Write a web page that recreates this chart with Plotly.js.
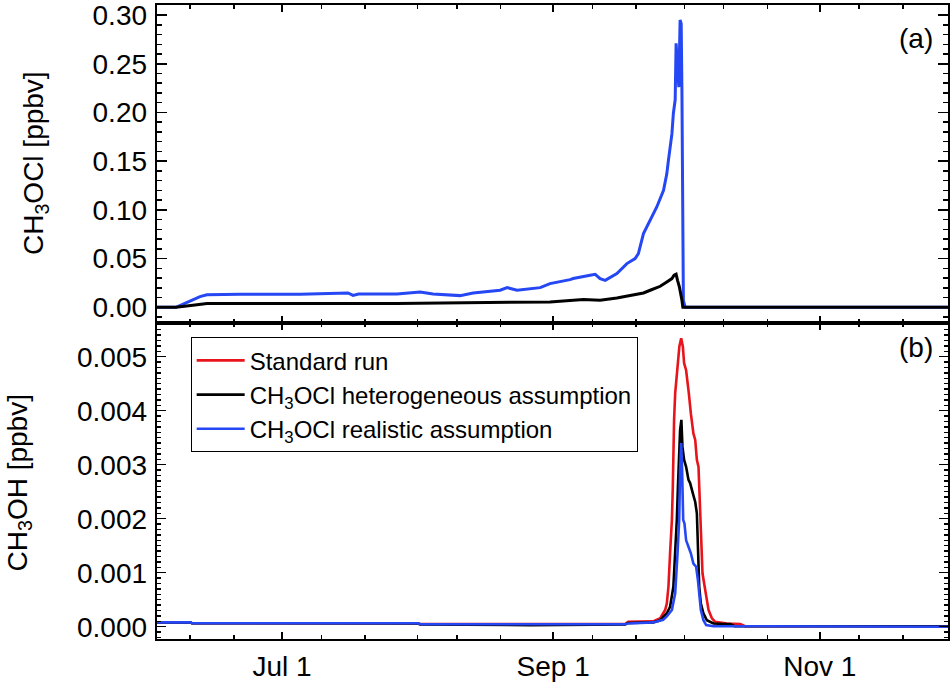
<!DOCTYPE html>
<html>
<head>
<meta charset="utf-8">
<script src="https://cdn.plot.ly/plotly-3.0.1.min.js"></script>
<style>
body { margin: 0; background: #fff; }
#chart { width: 950px; height: 685px; }
</style>
</head>
<body>
<div id="chart"></div>
<script>
// panel (a): CH3OCl
let ocl_real_dates = ['2003-06-02 08:00', '2003-06-06 18:00', '2003-06-08 19:00', '2003-06-10 15:00', '2003-06-12 06:00',
    '2003-06-13 20:00', '2003-06-21 09:00', '2003-07-05 03:00', '2003-07-16 02:00', '2003-07-17 06:00', '2003-07-18 12:00',
    '2003-07-27 07:00', '2003-08-01 14:00', '2003-08-04 13:00', '2003-08-10 17:00', '2003-08-13 17:00', '2003-08-19 21:00',
    '2003-08-21 12:00', '2003-08-23 18:00', '2003-08-29 01:00', '2003-08-31 07:00', '2003-09-04 21:00', '2003-09-05 14:00',
    '2003-09-09 11:00', '2003-09-10 15:00', '2003-09-11 18:00', '2003-09-12 22:00', '2003-09-15 14:00', '2003-09-17 21:00',
    '2003-09-19 18:00', '2003-09-20 12:00', '2003-09-21 16:00', '2003-09-23 05:00', '2003-09-24 17:00', '2003-09-26 06:00',
    '2003-09-27 00:00', '2003-09-27 09:00', '2003-09-28 04:00', '2003-09-28 12:00', '2003-09-28 22:00', '2003-09-29 03:00',
    '2003-09-29 13:00', '2003-09-29 18:00', '2003-09-30 01:00', '2003-09-30 07:00', '2003-09-30 11:00', '2003-09-30 14:00',
    '2003-09-30 19:00', '2003-10-01 05:00', '2003-11-30 09:00'];
let ocl_real = [0, 0, 0.004, 0.008, 0.011,
    0.0128, 0.0134, 0.0135, 0.0147, 0.0123, 0.0137,
    0.0137, 0.0157, 0.0137, 0.012, 0.0147, 0.0175,
    0.0202, 0.0175, 0.0202, 0.0243, 0.0284, 0.0295,
    0.0329, 0.0339, 0.0294, 0.0277, 0.0346, 0.0449,
    0.050, 0.0551, 0.0757, 0.0893, 0.103, 0.120,
    0.137, 0.151, 0.178, 0.199, 0.213, 0.271,
    0.243, 0.226, 0.295, 0.291, 0.223, 0.11,
    0.0072, 0, 0];

let ocl_het_dates = ['2003-06-02 08:00', '2003-06-06 18:00', '2003-06-10 15:00', '2003-06-13 20:00', '2003-07-27 07:00',
    '2003-08-10 17:00', '2003-08-21 12:00', '2003-08-31 07:00', '2003-09-07 22:00', '2003-09-11 18:00', '2003-09-15 14:00',
    '2003-09-19 09:00', '2003-09-21 16:00', '2003-09-23 05:00', '2003-09-25 12:00', '2003-09-27 00:00', '2003-09-28 04:00',
    '2003-09-28 16:00', '2003-09-29 03:00', '2003-09-29 11:00', '2003-09-29 21:00', '2003-09-30 11:00', '2003-09-30 16:00',
    '2003-11-30 09:00'];
let ocl_het = [0, 0, 0.002, 0.0038, 0.004,
    0.0045, 0.0055, 0.0055, 0.0079, 0.0072, 0.0096,
    0.0123, 0.0147, 0.0175, 0.0216, 0.026, 0.0295,
    0.0329, 0.0339, 0.0277, 0.0209, 0.0072, 0,
    0];

// panel (b): CH3OH
let oh_std_dates = ['2003-06-02 08:00', '2003-06-09 23:00', '2003-06-10 10:00', '2003-08-01 03:00', '2003-08-01 14:00',
    '2003-08-16 16:00', '2003-08-26 18:00', '2003-09-17 11:00', '2003-09-18 04:00', '2003-09-23 21:00', '2003-09-25 12:00',
    '2003-09-26 15:00', '2003-09-27 00:00', '2003-09-27 09:00', '2003-09-27 18:00', '2003-09-28 04:00', '2003-09-28 09:00',
    '2003-09-28 12:00', '2003-09-28 16:00', '2003-09-28 22:00', '2003-09-29 07:00', '2003-09-29 16:00', '2003-09-29 21:00',
    '2003-09-30 07:00', '2003-09-30 16:00', '2003-09-30 23:00', '2003-10-01 10:00', '2003-10-01 18:00', '2003-10-02 01:00',
    '2003-10-02 12:00', '2003-10-03 02:00', '2003-10-03 12:00', '2003-10-03 21:00', '2003-10-04 06:00', '2003-10-04 15:00',
    '2003-10-04 21:00', '2003-10-05 04:00', '2003-10-05 13:00', '2003-10-06 00:00', '2003-10-06 13:00', '2003-10-07 07:00',
    '2003-10-08 01:00', '2003-10-10 18:00', '2003-10-13 19:00', '2003-10-14 22:00', '2003-11-30 09:00'];
let oh_std = [0.00008, 0.00008, 0.000065, 0.000065, 0.00005,
    0.00005, 0.00004, 0.00005, 0.00009, 0.0001, 0.00016,
    0.00031, 0.00043, 0.00074, 0.00136, 0.00198, 0.00259,
    0.00321, 0.00383, 0.00432, 0.00475, 0.005, 0.00519,
    0.00534, 0.00519, 0.00488, 0.00475, 0.00444, 0.00432,
    0.00395, 0.00358, 0.00346, 0.00309, 0.00296, 0.00198,
    0.00136, 0.00099, 0.0008, 0.00056, 0.00031, 0.00016,
    0.00009, 0.00006, 0.00005, 0.00001, 0.00001];

let oh_het_dates = ['2003-06-02 08:00', '2003-06-09 23:00', '2003-06-10 10:00', '2003-08-01 03:00', '2003-08-01 14:00',
    '2003-08-26 18:00', '2003-09-17 11:00', '2003-09-18 04:00', '2003-09-23 21:00', '2003-09-25 12:00', '2003-09-27 00:00',
    '2003-09-27 18:00', '2003-09-28 12:00', '2003-09-28 22:00', '2003-09-29 07:00', '2003-09-29 13:00', '2003-09-29 18:00',
    '2003-09-30 01:00', '2003-09-30 08:00', '2003-09-30 14:00', '2003-09-30 23:00', '2003-10-01 10:00', '2003-10-01 23:00',
    '2003-10-02 08:00', '2003-10-02 23:00', '2003-10-03 12:00', '2003-10-03 21:00', '2003-10-04 03:00', '2003-10-04 10:00',
    '2003-10-04 19:00', '2003-10-05 09:00', '2003-10-06 04:00', '2003-10-07 16:00', '2003-10-09 23:00', '2003-10-11 12:00',
    '2003-10-12 12:00', '2003-11-30 09:00'];
let oh_het = [0.00008, 0.00008, 0.000065, 0.00006, 0.00004,
    0.00003, 0.00004, 0.00007, 0.00008, 0.00012, 0.00025,
    0.00037, 0.00074, 0.00136, 0.00198, 0.00259, 0.00309,
    0.00364, 0.00383, 0.00333, 0.00309, 0.00296, 0.00272,
    0.00266, 0.00247, 0.00231, 0.0021, 0.00136, 0.00074,
    0.00043, 0.00025, 0.00012, 0.00006, 0.00005, 0.00005,
    0.00001, 0.00001];

let oh_real_dates = ['2003-06-02 08:00', '2003-06-09 23:00', '2003-06-10 10:00', '2003-08-01 03:00', '2003-08-01 14:00',
    '2003-09-17 11:00', '2003-09-18 04:00', '2003-09-23 21:00', '2003-09-26 04:00', '2003-09-27 00:00', '2003-09-28 04:00',
    '2003-09-28 22:00', '2003-09-29 11:00', '2003-09-29 20:00', '2003-09-30 01:00', '2003-09-30 07:00', '2003-09-30 12:00',
    '2003-09-30 18:00', '2003-10-01 01:00', '2003-10-01 10:00', '2003-10-01 23:00', '2003-10-02 12:00', '2003-10-03 02:00',
    '2003-10-03 17:00', '2003-10-04 03:00', '2003-10-04 10:00', '2003-10-04 19:00', '2003-10-05 09:00', '2003-10-06 00:00',
    '2003-10-07 16:00', '2003-11-30 09:00'];
let oh_real = [0.00008, 0.00008, 0.000063, 0.000063, 0.000045,
    0.000045, 0.00006, 0.00008, 0.00013, 0.00019, 0.00031,
    0.00062, 0.00136, 0.00198, 0.0029, 0.0034, 0.0029,
    0.00198, 0.00191, 0.0016, 0.00148, 0.00136, 0.00117,
    0.00111, 0.00086, 0.00062, 0.00031, 0.00012, 0.00003,
    0.00001, 0];

let series_names = ['Standard run', 'CH<sub>3</sub>OCl heterogeneous assumption', 'CH<sub>3</sub>OCl realistic assumption'];
let date_range = ['2003-06-02 08:00', '2003-11-30 09:00'];
let major_dates = ['2003-07-01', '2003-09-01', '2003-11-01'];
let major_labels = ['Jul 1', 'Sep 1', 'Nov 1'];
let minor_dates = ['2003-06-10', '2003-06-20', '2003-07-10', '2003-07-20', '2003-08-01', '2003-08-10', '2003-08-20',
    '2003-09-10', '2003-09-20', '2003-10-01', '2003-10-10', '2003-10-20', '2003-11-10', '2003-11-20'];

let RED = '#e8141b', BLACK = '#000000', BLUE = '#2547f4';
let FONT = '"Liberation Sans", Arial, Helvetica, sans-serif';

function lineTrace(x, y, color, width, xa, ya, name, inLegend) {
    return {
        x: x, y: y, type: 'scatter', mode: 'lines', name: name, showlegend: inLegend,
        line: { color: color, width: width }, xaxis: xa, yaxis: ya, hoverinfo: 'skip'
    };
}

let data = [
    lineTrace(ocl_real_dates, ocl_real, BLUE, 3, 'x', 'y', series_names[2], false),
    lineTrace(ocl_het_dates, ocl_het, BLACK, 3, 'x', 'y', series_names[1], false),
    lineTrace(oh_std_dates, oh_std, RED, 2.6, 'x2', 'y2', series_names[0], true),
    lineTrace(oh_het_dates, oh_het, BLACK, 2.6, 'x2', 'y2', series_names[1], true),
    lineTrace(oh_real_dates, oh_real, BLUE, 2.6, 'x2', 'y2', series_names[2], true)
];

function xAxis(anchor, labels) {
    return {
        domain: [0.1649, 0.9982], anchor: anchor, type: 'date', range: date_range,
        showline: true, linecolor: 'black', linewidth: 2, mirror: 'allticks',
        showgrid: false, zeroline: false,
        ticks: 'inside', ticklen: 7, tickwidth: 1.5, tickcolor: 'black',
        tickmode: 'array', tickvals: major_dates, ticktext: major_labels,
        showticklabels: labels, ticklabelstandoff: 1, ticklabeloverflow: 'allow',
        tickfont: { size: 28, family: FONT, color: 'black' },
        minor: { tickmode: 'array', tickvals: minor_dates, ticks: 'inside', ticklen: 4, tickwidth: 1.5, tickcolor: 'black' }
    };
}

function yAxis(anchor, domain, range, dtick, minorDtick, fmt, majorLen, minorLen) {
    return {
        domain: domain, anchor: anchor, range: range,
        showline: true, linecolor: 'black', linewidth: 2, mirror: 'allticks',
        showgrid: false, zeroline: false,
        ticks: 'inside', ticklen: majorLen, tickwidth: 1.5, tickcolor: 'black',
        tick0: 0, dtick: dtick, tickformat: fmt, ticklabelstandoff: 2, ticklabeloverflow: 'allow',
        tickfont: { size: 28, family: FONT, color: 'black' },
        minor: { tick0: 0, dtick: minorDtick, ticks: 'inside', ticklen: minorLen, tickwidth: 1.5, tickcolor: 'black' }
    };
}

let layout = {
    width: 950, height: 685,
    margin: { l: 0, r: 0, t: 0, b: 0 },
    paper_bgcolor: 'white', plot_bgcolor: 'white',
    font: { family: FONT, size: 28, color: 'black' },
    showlegend: true,
    legend: {
        x: 0.2007, y: 0.5076, xanchor: 'left', yanchor: 'top',
        bgcolor: 'white', bordercolor: 'black', borderwidth: 1,
        font: { family: FONT, size: 24, color: 'black' },
        itemwidth: 48, tracegroupgap: 0
    },
    xaxis: xAxis('y', false),
    xaxis2: Object.assign(xAxis('y2', true), { matches: 'x' }),
    yaxis: yAxis('x', [0.5289, 0.9927], [-0.0158, 0.3103], 0.05, 0.01, '.2f', 10, 5),
    yaxis2: yAxis('x2', [0.0667, 0.5289], [-0.000233, 0.00563], 0.001, 0.0001, '.3f', 9, 4),
    annotations: [
        { text: 'CH<sub>3</sub>OCl [ppbv]', xref: 'paper', yref: 'paper', x: 0.0368, y: 0.762,
          xanchor: 'center', yanchor: 'middle', textangle: -90, showarrow: false, font: { size: 28, family: FONT } },
        { text: 'CH<sub>3</sub>OH [ppbv]', xref: 'paper', yref: 'paper', x: 0.02, y: 0.2942,
          xanchor: 'center', yanchor: 'middle', textangle: -90, showarrow: false, font: { size: 28, family: FONT } },
        { text: '(a)', xref: 'paper', yref: 'paper', x: 0.9642, y: 0.9445,
          xanchor: 'center', yanchor: 'middle', showarrow: false, font: { size: 28, family: FONT } },
        { text: '(b)', xref: 'paper', yref: 'paper', x: 0.9642, y: 0.492,
          xanchor: 'center', yanchor: 'middle', showarrow: false, font: { size: 28, family: FONT } }
    ]
};

Plotly.newPlot('chart', data, layout, { displayModeBar: false, staticPlot: true });
</script>
</body>
</html>
